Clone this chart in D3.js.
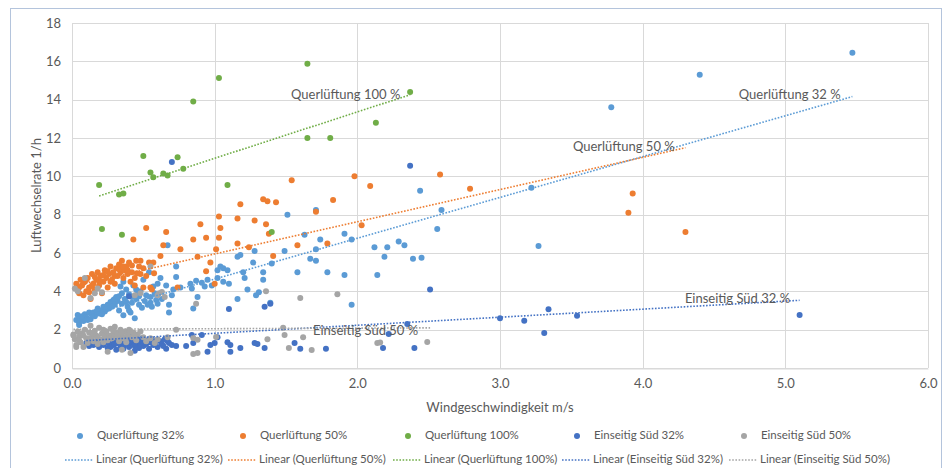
<!DOCTYPE html>
<html><head><meta charset="utf-8">
<script src="https://cdn.jsdelivr.net/npm/d3@7"></script>
<style>body{margin:0;background:#fff} svg{display:block} text{font-family:Lato,"Open Sans",sans-serif;fill:#595959}</style>
</head><body><svg id="c" width="945" height="468"></svg>
<script>
const seriesNames = ["Querlüftung 32%","Querlüftung 50%","Querlüftung 100%","Einseitig Süd 32%","Einseitig Süd 50%"];
const seriesColors = ["#5b9bd5","#ed7d31","#70ad47","#4472c4","#a5a5a5"];
const xTicks = [0,1,2,3,4,5,6];
const yTicks = [0,2,4,6,8,10,12,14,16,18];

const q32 = [[0.03,2.5],[0.04,2.77],[0.05,2.35],[0.06,2.6],[0.08,2.45],[0.09,2.8],[0.10,2.65],[0.12,2.9],[0.13,2.55],[0.15,2.9],[0.16,2.7],[0.18,3.1],[0.19,2.85],[0.20,3.0],[0.22,3.2],[0.23,2.95],[0.25,3.3],[0.26,3.1],[0.27,3.45],[0.29,3.55],[0.30,3.3],[0.31,3.7],[0.32,3.5],[0.33,3.0],[0.34,4.25],[0.35,3.9],[0.36,4.5],[0.36,2.75],[0.37,3.6],[0.38,4.1],[0.39,3.2],[0.40,3.85],[0.41,2.9],[0.42,3.4],[0.43,4.3],[0.44,2.6],[0.45,3.6],[0.46,3.9],[0.47,3.3],[0.48,4.0],[0.50,4.6],[0.51,3.5],[0.52,3.8],[0.54,5.0],[0.55,3.4],[0.56,3.2],[0.57,4.25],[0.58,3.9],[0.59,3.55],[0.60,4.4],[0.62,4.7],[0.63,3.6],[0.66,4.3],[0.67,6.4],[0.68,3.3],[0.68,2.9],[0.70,3.8],[0.71,4.1],[0.73,5.3],[0.73,4.75],[0.76,4.2],
[0.05,2.25],[0.07,2.7],[0.11,2.5],[0.14,2.75],[0.17,2.95],[0.21,2.8],[0.24,3.05],[0.28,3.2],[0.30,3.6],[0.33,3.75],[0.35,3.35],[0.38,3.45],[0.40,3.0],[0.42,3.7],[0.45,4.1],[0.47,3.75],[0.49,3.15],[0.53,3.3],[0.55,3.7],[0.60,3.35],
[0.83,4.4],[0.84,4.15],[0.85,3.1],[0.87,4.55],[0.88,3.7],[0.91,4.45],[0.93,4.25],[0.95,4.6],[0.98,4.3],[1.02,4.7],[1.02,5.1],[1.04,5.3],[1.06,5.2],[1.09,5.1],[1.06,4.5],[1.10,4.4],[1.16,5.8],[1.18,5.9],[1.20,5.0],[1.21,4.7],[1.23,4.1],[1.16,3.6],[1.28,6.1],[1.27,5.5],[1.29,3.8],[1.34,5.0],[1.34,4.6],[1.40,5.45],[1.39,3.4],[1.31,3.95],[1.49,6.1],[1.51,8.0],[1.58,5.0],[1.63,6.95],[1.67,5.7],[1.71,5.6],[1.71,8.25],[1.71,6.2],[1.74,6.7],[1.79,5.0],[1.91,7.0],[1.91,4.85],[1.96,6.7],[1.96,3.3],[2.12,6.3],[2.14,4.85],[2.19,5.8],[2.21,6.3],[2.29,6.6],[2.33,6.4],[2.39,5.7],[2.45,5.75],[2.44,9.25],[2.56,7.25],[2.59,8.25],[3.22,9.4],[3.27,6.36],[3.78,13.6],[4.40,15.3],[5.47,16.45]];

const q50 = [[0.03,4.4],[0.04,4.1],[0.05,3.9],[0.06,4.6],[0.07,4.3],[0.08,3.8],[0.09,4.5],[0.10,4.0],[0.11,4.7],[0.12,4.2],[0.13,3.6],[0.14,4.9],[0.15,4.4],[0.16,4.1],[0.17,4.6],[0.18,5.0],[0.19,4.3],[0.20,4.8],[0.21,3.9],[0.22,4.5],[0.23,5.1],[0.24,4.7],[0.25,4.2],[0.26,4.9],[0.27,5.3],[0.28,4.6],[0.29,5.0],[0.30,4.4],[0.31,5.2],[0.32,4.8],[0.33,5.4],[0.34,5.0],[0.35,5.6],[0.36,4.7],[0.37,5.1],[0.38,5.3],[0.39,4.9],[0.40,5.5],[0.41,4.5],[0.42,5.0],[0.44,4.3],[0.45,5.6],[0.47,5.3],[0.48,4.9],[0.50,5.2],[0.52,4.8],[0.54,5.5],[0.55,4.2],
[0.05,4.2],[0.08,4.45],[0.10,4.6],[0.12,3.95],[0.14,4.3],[0.16,4.75],[0.19,4.55],[0.22,4.85],[0.25,5.05],[0.27,4.5],[0.30,4.8],[0.33,5.15],[0.36,5.3],[0.39,5.1],[0.42,5.35],[0.44,4.7],
[0.43,6.7],[0.52,7.3],[0.66,7.1],[0.64,6.4],[0.62,5.85],[0.57,5.5],[0.575,4.95],[0.455,4.95],[0.50,4.2],[0.56,4.1],[0.74,4.2],[0.76,6.2],[0.85,6.7],[0.90,7.5],[0.88,5.8],[0.94,6.8],[0.94,5.05],[0.97,5.5],[1.0,4.4],[1.03,7.9],[1.04,7.3],[1.03,6.8],[1.01,6.2],[1.16,7.8],[1.16,6.5],[1.18,8.55],[1.24,6.3],[1.28,7.7],[1.36,7.5],[1.34,8.8],[1.37,8.7],[1.38,7.0],[1.41,5.85],[1.43,8.65],[1.54,9.8],[1.58,6.4],[1.71,8.15],[1.79,6.5],[1.83,8.77],[1.98,10.0],[2.03,7.45],[2.09,9.5],[2.58,10.1],[2.79,9.35],[3.90,8.1],[3.93,9.1],[4.30,7.1],[0.48,5.6]];

const q100 = [[0.19,9.55],[0.33,9.05],[0.36,9.1],[0.50,11.06],[0.55,10.2],[0.57,9.95],[0.64,10.15],[0.67,10.05],[0.74,11.0],[0.78,10.4],[0.21,7.25],[0.35,6.95],[1.09,9.55],[0.85,13.9],[1.03,15.13],[1.65,15.87],[1.65,12.0],[1.81,12.0],[2.13,12.8],[2.37,14.4],[1.40,7.1]];

const e32 = [[0.10,1.3],[0.12,1.15],[0.14,1.4],[0.16,1.25],[0.18,1.5],[0.19,1.1],[0.21,1.35],[0.22,1.2],[0.24,1.45],[0.25,1.05],[0.26,1.3],[0.28,1.55],[0.29,1.2],[0.30,1.4],[0.31,0.95],[0.32,1.3],[0.33,1.6],[0.34,1.15],[0.35,1.35],[0.36,1.0],[0.37,1.5],[0.38,1.25],[0.39,1.4],[0.40,1.1],[0.41,1.65],[0.42,1.3],[0.43,1.5],[0.44,0.9],[0.45,1.2],[0.46,1.4],[0.47,1.05],[0.48,1.3],[0.49,1.55],[0.50,1.15],[0.51,1.4],[0.52,1.25],[0.54,1.0],[0.55,1.35],[0.56,1.5],[0.57,1.2],[0.58,1.3],[0.60,1.1],[0.62,1.4],[0.63,1.25],[0.65,1.5],[0.66,1.0],[0.68,1.3],[0.70,1.2],[0.73,1.15],
[0.15,1.2],[0.20,1.45],[0.23,1.3],[0.27,1.1],[0.30,1.25],[0.34,1.45],[0.37,1.2],[0.40,1.35],[0.44,1.15],[0.47,1.45],[0.50,1.3],[0.53,1.45],[0.59,1.4],[0.64,1.15],[0.67,1.4],
[0.70,10.75],[2.37,10.55],[2.51,4.1],[1.10,3.08],[1.35,3.2],[1.39,3.35],[0.40,3.75],[2.35,2.3],[2.22,1.78],[2.18,1.04],[2.40,1.04],[3.0,2.6],[3.17,2.46],[3.34,3.06],[3.31,1.83],[3.54,2.72],[5.10,2.76],
[0.84,1.72],[0.91,1.72],[0.95,0.85],[1.0,1.3],[1.02,1.6],[1.11,1.2],[1.11,0.85],[1.18,1.04],[1.28,1.3],[1.30,1.25],[1.35,1.04],[1.56,1.3],[1.60,1.0],[1.78,1.0],[0.85,1.3],[1.09,1.35],[0.97,1.2],[0.80,1.15]];

const e50 = [[0.01,1.75],[0.02,1.5],[0.03,1.2],[0.04,1.9],[0.05,1.65],[0.06,1.35],[0.07,1.8],[0.08,1.1],[0.09,2.0],[0.10,1.55],[0.11,1.3],[0.12,1.85],[0.13,2.2],[0.14,1.6],[0.15,1.4],[0.16,1.95],[0.17,1.7],[0.18,1.25],[0.19,2.1],[0.20,1.5],[0.21,1.8],[0.22,1.35],[0.23,1.65],[0.24,1.9],[0.25,1.45],[0.26,1.7],[0.27,2.05],[0.28,1.55],[0.29,1.8],[0.30,2.15],[0.31,1.6],[0.32,1.85],[0.33,1.4],[0.34,2.0],[0.35,1.7],[0.36,1.55],[0.37,1.9],[0.38,1.35],[0.39,1.75],[0.40,2.0],[0.42,1.6],[0.43,1.85],[0.45,1.45],[0.46,1.75],[0.48,1.9],[0.50,1.6],[0.52,1.4],[0.55,1.55],[0.58,1.3],[0.60,1.5],[0.25,0.85],[0.35,0.95],
[0.05,1.45],[0.08,1.7],[0.12,1.55],[0.15,1.85],[0.18,1.6],[0.22,2.0],[0.26,1.55],[0.29,1.95],[0.32,1.7],[0.35,1.85],[0.38,1.6],[0.41,1.9],[0.44,1.7],
[0.02,4.15],[0.04,4.0],[0.09,4.7],[0.18,4.15],[0.21,3.95],[0.13,3.65],[0.16,3.9],[0.44,3.8],[0.48,3.9],[0.55,5.3],[0.61,3.9],[0.63,3.97],[0.65,3.7],[0.60,3.8],
[0.73,2.0],[0.67,1.6],[0.87,3.35],[0.85,0.73],[0.88,0.78],[1.36,4.0],[1.60,3.65],[1.86,3.85],[1.48,2.1],[1.49,1.72],[1.52,1.04],[1.62,1.6],[1.68,0.94],[1.37,1.5],[2.14,1.3],[2.16,1.33],[2.49,1.36],[0.85,1.57],[0.88,1.47],[1.01,1.62],[0.41,0.78],[0.03,1.1],[0.01,1.7]];

const seriesData = [q32,q50,q100,e32,e50];

// linear trendlines
const trendSlope = [2.13,1.68,2.42,0.42,0.03];
const trendIntercept = [2.51,4.27,8.52,1.39,2.02];
const trendXmin = [0.03,0.03,0.19,0.10,0.01];
const trendXmax = [5.47,4.30,2.37,5.10,2.51];
const trendLabels = ["Querlüftung 32 %","Querlüftung 50 %","Querlüftung 100 %","Einseitig Süd 32 %","Einseitig Süd 50 %"];
const trendLabelAnchor = [[4.674,14.2],[3.511,11.49],[1.535,14.2],[4.296,3.55],[1.689,1.88]];

const svg = d3.select("#c");
const W=945,H=468;
const m = {left:72, right:17, top:23, bottom:100};
const x = d3.scaleLinear().domain([0,6]).range([m.left, W-m.right]);
const y = d3.scaleLinear().domain([0,18]).range([H-m.bottom, m.top]);

svg.append("rect").attr("x",10.5).attr("y",8.5).attr("width",931).attr("height",480)
  .attr("fill","#fff").attr("stroke","#b4c4dc").attr("stroke-width",1);

// grid
const g = svg.append("g");
g.selectAll("line.h").data(yTicks).join("line").attr("class","h")
  .attr("x1",x(0)).attr("x2",x(6)).attr("y1",d=>Math.round(y(d))+0.5).attr("y2",d=>Math.round(y(d))+0.5)
  .attr("stroke","#d9d9d9");
g.selectAll("line.v").data(xTicks).join("line").attr("class","v")
  .attr("y1",y(0)).attr("y2",y(18)).attr("x1",d=>Math.round(x(d))+0.5).attr("x2",d=>Math.round(x(d))+0.5)
  .attr("stroke","#d9d9d9");

// axes via d3
const xAxis = svg.append("g").attr("transform",`translate(0,${Math.round(y(0))+0.5})`)
  .call(d3.axisBottom(x).tickValues(xTicks).tickFormat(d3.format(".1f")).tickSize(0).tickPadding(10));
xAxis.select(".domain").attr("stroke","#d9d9d9");
xAxis.selectAll("text").style("font-size","13px").attr("fill","#595959").style("font-family","Lato,'Open Sans',sans-serif");
const yAxis = svg.append("g").attr("transform",`translate(${m.left},0)`)
  .call(d3.axisLeft(y).tickValues(yTicks).tickFormat(d3.format("d")).tickSize(0).tickPadding(11));
yAxis.select(".domain").remove();
yAxis.selectAll("text").style("font-size","13px").attr("fill","#595959").style("font-family","Lato,'Open Sans',sans-serif");

// points
seriesData.forEach((data,i)=>{
  svg.append("g").selectAll("circle").data(data).join("circle")
    .attr("cx",d=>x(d[0])).attr("cy",d=>y(d[1])).attr("r",3)
    .attr("fill",seriesColors[i]);
});

// trendlines
seriesData.forEach((data,i)=>{
  const x0=trendXmin[i], x1=trendXmax[i];
  svg.append("line")
    .attr("x1",x(x0)).attr("y1",y(trendIntercept[i]+trendSlope[i]*x0))
    .attr("x2",x(x1)).attr("y2",y(trendIntercept[i]+trendSlope[i]*x1))
    .attr("stroke",seriesColors[i]).attr("stroke-width",1.6).attr("stroke-dasharray","1.6,1.6");
});
// trendline labels
svg.append("g").selectAll("text").data(trendLabels).join("text")
  .attr("x",(d,i)=>x(trendLabelAnchor[i][0])).attr("y",(d,i)=>y(trendLabelAnchor[i][1]))
  .attr("dominant-baseline","middle").style("font-size","13px").text(d=>d);

// axis titles
svg.append("text").attr("x",(x(0)+x(6))/2).attr("y",412).attr("text-anchor","middle")
  .style("font-size","13px").text("Windgeschwindigkeit m/s");
svg.append("text").attr("transform",`translate(38,${(y(0)+y(18))/2}) rotate(-90)`).attr("text-anchor","middle")
  .attr("dominant-baseline","middle").style("font-size","13px").text("Luftwechselrate 1/h");

// legend
const colX = [62,225,390,559,726];
const leg = svg.append("g");
seriesNames.forEach((n,i)=>{
  leg.append("circle").attr("cx",colX[i]+18).attr("cy",436).attr("r",3).attr("fill",seriesColors[i]);
  leg.append("text").attr("x",colX[i]+35).attr("y",436).attr("dominant-baseline","middle").style("font-size","11.5px").text(n);
  leg.append("line").attr("x1",colX[i]+3).attr("x2",colX[i]+31).attr("y1",460).attr("y2",460)
    .attr("stroke",seriesColors[i]).attr("stroke-width",1.6).attr("stroke-dasharray","1.6,1.6");
  leg.append("text").attr("x",colX[i]+34).attr("y",460).attr("dominant-baseline","middle").style("font-size","11.5px").text("Linear ("+n+")");
});
</script></body></html>
